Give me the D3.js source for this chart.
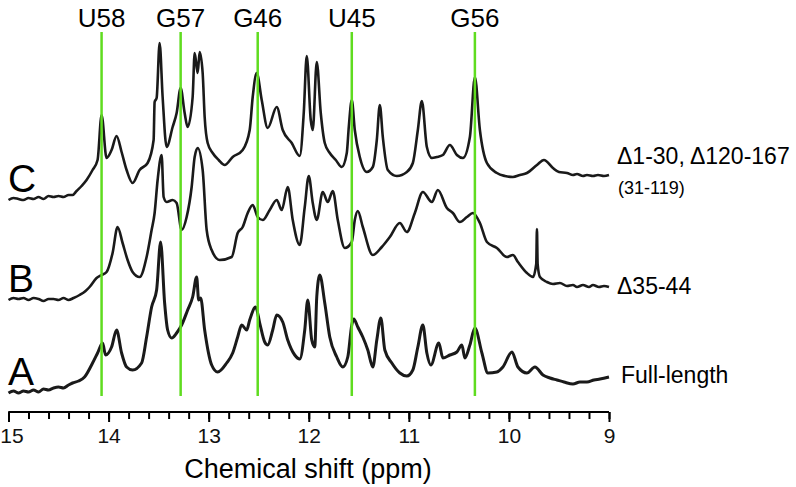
<!DOCTYPE html>
<html>
<head>
<meta charset="UTF-8">
<title>imino NMR spectra</title>
<script src="https://cdn.jsdelivr.net/npm/d3@7"></script>
<style>
  body { margin: 0; background: #fff; }
  svg { font-family: "Liberation Sans", Arial, sans-serif; }
</style>
</head>
<body>
<div id="chart"></div>
<script>
// [ppm, intensity (a.u.)]
const traceC = [[15.00,0.00],[14.95,0.02],[14.90,0.01],[14.85,0.00],[14.80,0.02],[14.75,0.01],[14.70,0.03],[14.65,0.01],[14.60,0.04],[14.55,0.03],[14.50,0.04],[14.45,0.03],[14.40,0.05],[14.36,0.05],[14.32,0.09],[14.27,0.14],[14.22,0.20],[14.16,0.30],[14.11,0.40],[14.07,0.85],[14.02,0.42],[13.97,0.50],[13.92,0.64],[13.87,0.48],[13.82,0.30],[13.76,0.17],[13.69,0.30],[13.61,0.37],[13.55,0.60],[13.54,0.98],[13.52,1.02],[13.49,1.57],[13.46,1.03],[13.42,0.53],[13.36,0.73],[13.32,0.87],[13.28,1.12],[13.24,0.87],[13.21,0.73],[13.16,1.03],[13.14,1.47],[13.11,1.27],[13.09,1.48],[13.06,1.27],[13.04,0.83],[13.01,0.57],[12.96,0.47],[12.90,0.40],[12.84,0.35],[12.76,0.43],[12.66,0.50],[12.59,0.70],[12.56,1.03],[12.52,1.27],[12.47,1.00],[12.41,0.72],[12.32,0.93],[12.26,0.70],[12.17,0.57],[12.09,0.44],[12.05,0.87],[12.02,1.44],[11.98,0.80],[11.96,0.70],[11.92,1.38],[11.88,0.87],[11.84,0.57],[11.79,0.47],[11.73,0.40],[11.67,0.33],[11.62,0.47],[11.60,0.73],[11.57,1.00],[11.54,0.70],[11.49,0.43],[11.42,0.28],[11.36,0.33],[11.32,0.60],[11.29,0.95],[11.26,0.63],[11.21,0.30],[11.12,0.24],[11.02,0.28],[10.96,0.37],[10.91,0.70],[10.87,0.99],[10.82,0.53],[10.77,0.42],[10.72,0.43],[10.66,0.45],[10.59,0.55],[10.52,0.45],[10.46,0.42],[10.39,0.63],[10.34,1.23],[10.29,0.70],[10.22,0.37],[10.12,0.27],[10.04,0.24],[9.96,0.23],[9.89,0.25],[9.82,0.27],[9.72,0.35],[9.65,0.40],[9.56,0.32],[9.50,0.28],[9.42,0.27],[9.36,0.25],[9.32,0.26],[9.26,0.24],[9.22,0.25],[9.16,0.24],[9.11,0.25],[9.05,0.24],[9.00,0.25]];

const traceB = [[15.00,0.00],[14.95,0.02],[14.90,0.01],[14.85,0.02],[14.80,0.00],[14.75,0.02],[14.70,0.01],[14.65,-0.01],[14.60,0.01],[14.55,0.01],[14.50,0.00],[14.45,0.02],[14.40,0.00],[14.35,0.02],[14.29,0.05],[14.23,0.09],[14.19,0.13],[14.12,0.22],[14.07,0.25],[14.02,0.28],[13.96,0.47],[13.91,0.73],[13.86,0.57],[13.81,0.40],[13.76,0.28],[13.69,0.23],[13.62,0.43],[13.57,0.70],[13.54,0.87],[13.51,1.20],[13.47,1.45],[13.45,1.03],[13.42,0.98],[13.36,1.00],[13.32,0.97],[13.27,0.70],[13.22,0.83],[13.17,1.13],[13.14,1.43],[13.11,1.52],[13.06,1.30],[13.02,0.70],[12.97,0.50],[12.89,0.40],[12.77,0.43],[12.71,0.67],[12.66,0.73],[12.61,0.87],[12.56,0.95],[12.51,0.83],[12.46,0.80],[12.39,0.90],[12.32,1.00],[12.27,0.90],[12.21,1.13],[12.16,0.80],[12.09,0.55],[12.04,0.93],[12.00,1.24],[11.96,0.97],[11.92,0.80],[11.86,1.08],[11.81,0.98],[11.76,1.09],[11.71,0.80],[11.64,0.52],[11.57,0.58],[11.54,0.80],[11.51,0.89],[11.46,0.73],[11.36,0.45],[11.27,0.53],[11.19,0.63],[11.09,0.77],[11.02,0.68],[10.94,0.87],[10.86,1.08],[10.77,0.98],[10.71,1.10],[10.62,0.92],[10.56,0.87],[10.49,0.78],[10.42,0.83],[10.36,0.87],[10.29,0.77],[10.22,0.58],[10.12,0.52],[10.02,0.43],[9.96,0.45],[9.91,0.38],[9.82,0.27],[9.76,0.23],[9.727,0.36],[9.72,0.71],[9.713,0.36],[9.69,0.23],[9.62,0.18],[9.56,0.16],[9.49,0.17],[9.42,0.14],[9.36,0.15],[9.32,0.13],[9.26,0.15],[9.20,0.13],[9.16,0.15],[9.10,0.13],[9.05,0.14],[9.00,0.13]];

const traceA = [[15.00,0.00],[14.95,0.02],[14.90,0.00],[14.85,0.02],[14.80,0.01],[14.75,0.03],[14.70,0.01],[14.65,0.04],[14.60,0.03],[14.55,0.05],[14.50,0.06],[14.45,0.05],[14.40,0.08],[14.36,0.10],[14.30,0.12],[14.24,0.16],[14.16,0.30],[14.11,0.40],[14.06,0.50],[14.03,0.38],[13.97,0.46],[13.92,0.63],[13.87,0.40],[13.82,0.26],[13.76,0.23],[13.67,0.30],[13.62,0.56],[13.57,0.86],[13.52,1.03],[13.48,1.51],[13.44,0.90],[13.41,0.63],[13.37,0.55],[13.32,0.60],[13.27,0.68],[13.21,0.83],[13.16,0.96],[13.12,1.16],[13.10,0.93],[13.08,0.95],[13.04,0.63],[12.97,0.28],[12.91,0.21],[12.82,0.30],[12.76,0.40],[12.71,0.56],[12.67,0.68],[12.62,0.63],[12.59,0.73],[12.53,0.86],[12.49,0.70],[12.44,0.51],[12.41,0.48],[12.36,0.63],[12.32,0.78],[12.26,0.71],[12.21,0.53],[12.14,0.38],[12.09,0.34],[12.04,0.63],[12.01,0.93],[11.97,0.53],[11.94,0.46],[11.92,0.96],[11.89,1.18],[11.84,0.90],[11.79,0.56],[11.72,0.36],[11.66,0.26],[11.61,0.36],[11.57,0.68],[11.55,0.74],[11.51,0.66],[11.46,0.56],[11.41,0.43],[11.36,0.26],[11.32,0.53],[11.28,0.75],[11.24,0.43],[11.17,0.30],[11.09,0.20],[11.02,0.17],[10.96,0.23],[10.91,0.46],[10.86,0.68],[10.82,0.40],[10.78,0.28],[10.70,0.50],[10.66,0.35],[10.59,0.38],[10.52,0.41],[10.47,0.48],[10.44,0.35],[10.39,0.48],[10.34,0.65],[10.27,0.40],[10.21,0.20],[10.12,0.21],[10.06,0.26],[9.97,0.41],[9.91,0.26],[9.82,0.20],[9.74,0.26],[9.66,0.18],[9.59,0.15],[9.52,0.13],[9.45,0.11],[9.36,0.09],[9.29,0.11],[9.22,0.11],[9.15,0.13],[9.09,0.14],[9.00,0.16]];

const assignNames = ["U58", "G57", "G46", "U45", "G56"];
const assignPpm = [14.07, 13.28, 12.51, 11.57, 10.34];
const traceLetters = ["C", "B", "A"];
const traceNames = ["\u03941-30, \u0394120-167", "\u039435-44", "Full-length"];
const traceSubNames = ["(31-119)", "", ""];
const ppmTicks = d3.range(15, 8.9, -0.2);
const ppmMajor = [15, 14, 13, 12, 11, 10, 9];

const width = 796, height = 487;
const svg = d3.select("#chart").append("svg")
  .attr("width", width).attr("height", height);

const x = d3.scaleLinear().domain([15, 9]).range([8.5, 609]);
const y = d3.scaleLinear().domain([0, 1]).range([0, -100]);

const baselines = [200, 300, 393];
const traces = [traceC, traceB, traceA];

const line = d3.line()
  .curve(d3.curveMonotoneX)
  .x(d => x(d[0]))
  .y(d => y(d[1]));

traces.forEach((t, i) => {
  const g = svg.append("g").attr("transform", "translate(0," + baselines[i] + ")");
  g.append("path")
    .datum(t)
    .attr("d", line)
    .attr("fill", "none")
    .attr("stroke", "#1a1a1a")
    .attr("stroke-width", i == 2 ? 3 : 2.6)
    .attr("stroke-linejoin", "round");
});

// assignment lines on top
svg.selectAll(".assign")
  .data(assignPpm)
  .join("line")
  .attr("x1", d => x(d)).attr("x2", d => x(d))
  .attr("y1", 32).attr("y2", 396)
  .attr("stroke", "#5fdc1f")
  .attr("stroke-width", 2.5);

svg.selectAll(".assignLabel")
  .data(assignNames)
  .join("text")
  .attr("x", (d, i) => x(assignPpm[i]))
  .attr("y", 27)
  .attr("text-anchor", "middle")
  .attr("font-size", "26px")
  .text(d => d);

// trace letters
svg.selectAll(".letter")
  .data(traceLetters)
  .join("text")
  .attr("x", 8)
  .attr("y", (d, i) => baselines[i] - 8)
  .attr("font-size", "39px")
  .text(d => d);

// right-hand names
svg.selectAll(".name")
  .data(traceNames)
  .join("text")
  .attr("x", (d, i) => i == 2 ? 621 : 617)
  .attr("y", (d, i) => [164, 294, 383][i])
  .attr("font-size", "23px")
  .text(d => d);

svg.append("text")
  .attr("x", 618).attr("y", 194)
  .attr("font-size", "18px")
  .text(traceSubNames[0]);

// axis
const axisG = svg.append("g").attr("transform", "translate(0,412)");
axisG.call(d3.axisBottom(x).tickValues(ppmTicks).tickSize(7).tickFormat(""));
axisG.selectAll(".tick line").attr("stroke-width", 2);
const major = svg.append("g").attr("transform", "translate(0,412)")
  .call(d3.axisBottom(x).tickValues(ppmMajor).tickSize(10).tickPadding(6).tickFormat(d3.format("d")));
major.selectAll(".tick line").attr("stroke-width", 2);
major.selectAll("text")
  .attr("font-size", "21px")
  .attr("font-family", "Liberation Sans, Arial, sans-serif")
  .attr("fill", "#111")
  .attr("dx", d => d == 15 ? 3 : 0);
svg.selectAll(".domain").attr("stroke-width", 2).attr("d", "M8.5,0H609");

svg.append("text")
  .attr("x", 308)
  .attr("y", 478)
  .attr("text-anchor", "middle")
  .attr("font-size", "27px")
  .text("Chemical shift (ppm)");
</script>
</body>
</html>
